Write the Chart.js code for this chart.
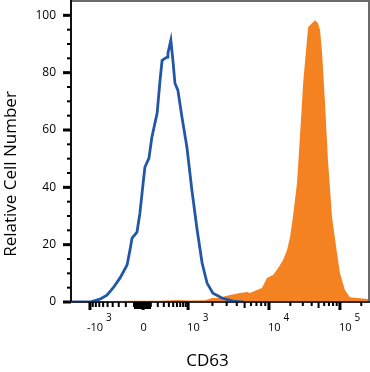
<!DOCTYPE html>
<html lang="en">
<head>
<meta charset="UTF-8">
<title>CD63</title>
<script src="https://cdn.jsdelivr.net/npm/chart.js"></script>
<style>
  html, body { margin: 0; padding: 0; background: #fff; }
  #wrap { width: 370px; height: 372px; position: relative; }
</style>
</head>
<body>
<div id="wrap"><canvas id="histo"></canvas></div>
<script>
// x values are positions on the biexponential display scale (channels 0-1024)
var isotypeX = [0, 65, 99, 123, 144, 168, 192, 202, 209, 226, 236, 247, 253, 267, 277, 295, 305, 312, 322, 329, 332, 342, 349, 356, 366, 380, 397, 414, 432, 449, 466, 486, 517, 555, 589];
var isotypeY = [0, 0, 1.0, 2.4, 4.9, 8.4, 12.9, 18.1, 22.3, 24.4, 31.0, 41.5, 47.0, 50.2, 57.5, 65.9, 77.4, 84.3, 85.0, 85.4, 86.8, 91.3, 84.3, 76.3, 73.9, 64.5, 54.0, 39.0, 25.1, 13.6, 6.6, 3.1, 1.4, 0.3, 0];

var cd63X = [65, 99, 202, 305, 366, 408, 459, 483, 503, 545, 579, 603, 613, 637, 654, 671, 692, 709, 726, 740, 750, 760, 774, 784, 795, 808, 812, 825, 836, 846, 853, 860, 870, 880, 894, 911, 921, 938, 955, 979, 1024];
var cd63Y = [0, 0.3, 0.4, 0.4, 0.7, 0.5, 0.6, 1.4, 1.4, 2.4, 3.1, 3.5, 3.1, 4.2, 4.9, 8.4, 9.4, 11.8, 14.6, 18.1, 22.6, 29.6, 41.5, 57.5, 76.3, 91.3, 95.8, 97.2, 98.3, 97.2, 94.8, 86.8, 69.3, 49.5, 29.6, 17.1, 10.1, 4.2, 1.7, 1.4, 1.0];

var xTickValues = [-1000, 0, 1000, 10000, 100000];
var xTickBase = ['-10', '0', '10', '10', '10'];
var xTickExp = ['3', '', '3', '4', '5'];
var yTickValues = [0, 20, 40, 60, 80, 100];

// fluorescence value -> display channel (logicle-like axis)
function toChannel(v) {
  var k = Math.asinh(1000 / 300);
  if (v >= 10000) return 678 + 243 * Math.log10(v / 10000);
  if (v >= 1000) return 401 + 277 * Math.log10(v / 1000);
  if (v >= 0) return 247 + 154 * Math.asinh(v / 300) / k;
  return 247 - 182 * Math.asinh(-v / 300) / k;
}

function minorValues() {
  var out = [];
  for (var m = 1; m <= 9; m++) {
    out.push({ v: -m * 100, len: 5 }, { v: m * 100, len: 5 });
    out.push({ v: -m * 10, len: 7 }, { v: m * 10, len: 7 });
  }
  for (var d = 2; d <= 9; d++) {
    out.push({ v: d * 1000, len: d == 5 ? 6 : 4 });
    out.push({ v: d * 10000, len: d == 5 ? 6 : 4 });
    out.push({ v: d * 100000, len: 4 });
  }
  return out;
}

function toPoints(xs, ys) {
  return xs.map(function (x, i) { return { x: x, y: ys[i] }; });
}

var axisPlugin = {
  id: 'flowAxes',
  afterDraw: function (chart) {
    var ctx = chart.ctx;
    var xs = chart.scales.x, ys = chart.scales.y;
    var a = chart.chartArea;
    ctx.save();

    // frame
    ctx.fillStyle = '#6a6a6a';
    ctx.fillRect(a.left, 0, a.right - a.left, 2);
    ctx.fillRect(a.right - 2, 0, 2, a.bottom);
    ctx.fillStyle = '#111';
    ctx.fillRect(a.left - 1, 0, 2, a.bottom + 1);
    ctx.fillStyle = '#2b2b33';
    ctx.fillRect(a.left - 1, a.bottom - 1, a.right - a.left + 1, 2);

    // y ticks
    ctx.fillStyle = '#000';
    for (var v = 0; v <= 100; v += 5) {
      var py = ys.getPixelForValue(v);
      if (v % 20 === 0) ctx.fillRect(a.left - 8, py - 1.5, 8, 3);
      else ctx.fillRect(a.left - 4, py - 1, 4, 2);
    }
    ctx.font = '12px "Open Sans"';
    ctx.textAlign = 'right';
    ctx.textBaseline = 'middle';
    yTickValues.forEach(function (t) {
      ctx.fillText(String(t), 56, ys.getPixelForValue(t));
    });

    // x ticks
    minorValues().forEach(function (m) {
      var c = toChannel(m.v);
      if (c < xs.min || c > xs.max) return;
      var px = xs.getPixelForValue(c);
      ctx.fillRect(px - 1, a.bottom, 2, m.len);
    });
    xTickValues.forEach(function (t, i) {
      var px = xs.getPixelForValue(toChannel(t));
      ctx.fillRect(px - 1.5, a.bottom, 3, 8);
      ctx.textBaseline = 'alphabetic';
      if (xTickExp[i] === '') {
        ctx.font = '11px "Open Sans"';
        ctx.textAlign = 'center';
        ctx.fillText(xTickBase[i], px + 0.5, 331);
        return;
      }
      ctx.font = '11px "Open Sans"';
      ctx.textAlign = 'left';
      var x0 = xTickBase[i].charAt(0) === '-' ? px - 3 : px - 1;
      ctx.fillText(xTickBase[i], x0, 331);
      var w = ctx.measureText(xTickBase[i]).width;
      ctx.font = '10px "Open Sans"';
      ctx.fillText(xTickExp[i], x0 + w + 3, 321);
    });

    // titles
    ctx.font = '17px "Open Sans"';
    ctx.textAlign = 'center';
    ctx.textBaseline = 'alphabetic';
    ctx.fillText('CD63', 207.5, 366);
    ctx.translate(15.5, 174);
    ctx.rotate(-Math.PI / 2);
    ctx.fillText('Relative Cell Number', 0, 0);
    ctx.restore();
  }
};

new Chart(document.getElementById('histo'), {
  type: 'line',
  data: {
    datasets: [
      {
        label: 'Isotype control',
        data: toPoints(isotypeX, isotypeY),
        borderColor: '#2157a6',
        borderWidth: 2.8,
        fill: false,
        pointRadius: 0,
        tension: 0
      },
      {
        label: 'CD63',
        data: toPoints(cd63X, cd63Y),
        borderWidth: 0,
        backgroundColor: '#f58220',
        borderColor: '#f58220',
        fill: 'origin',
        pointRadius: 0,
        tension: 0
      }
    ]
  },
  options: {
    responsive: true,
    maintainAspectRatio: false,
    animation: false,
    layout: { padding: { left: 71, right: 0, top: 1, bottom: 70 } },
    plugins: { legend: { display: false }, tooltip: { enabled: false } },
    scales: {
      x: { type: 'linear', min: 0, max: 1024, display: false },
      y: { type: 'linear', min: 0, max: 105, display: false }
    }
  },
  plugins: [axisPlugin]
});
</script>
</body>
</html>
